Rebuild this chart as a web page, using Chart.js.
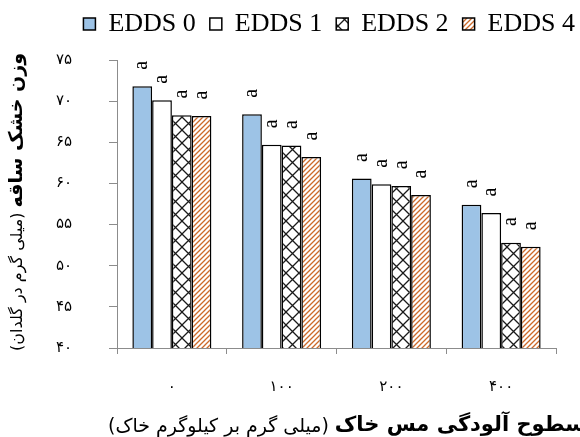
<!DOCTYPE html>
<html>
<head>
<meta charset="utf-8">
<script src="https://cdn.jsdelivr.net/npm/chart.js@4/dist/chart.umd.min.js"></script>
<style>
html,body{margin:0;padding:0;background:#fff;}
#wrap{width:580px;height:437px;position:relative;}
</style>
</head>
<body>
<div id="wrap"><canvas id="c"></canvas></div>
<script>
// ---- data ----
const categories = ['۰', '۱۰۰', '۲۰۰', '۴۰۰'];
const seriesNames = ['EDDS 0', 'EDDS 1', 'EDDS 2', 'EDDS 4'];
const edds0 = [71.8, 68.4, 60.6, 57.4];
const edds1 = [70.1, 64.7, 59.9, 56.4];
const edds2 = [68.3, 64.6, 59.7, 52.8];
const edds4 = [68.2, 63.2, 58.6, 52.3];
const letters0 = ['a', 'a', 'a', 'a'];
const letters1 = ['a', 'a', 'a', 'a'];
const letters2 = ['a', 'a', 'a', 'a'];
const letters4 = ['a', 'a', 'a', 'a'];
const yTickValues = [40, 45, 50, 55, 60, 65, 70, 75];
const yTickLabels = ['۴۰', '۴۵', '۵۰', '۵۵', '۶۰', '۶۵', '۷۰', '۷۵'];
const yTitleBold = 'وزن خشک ساقه';
const yTitleNormal = '(میلی گرم در گلدان)';
const xTitleBold = 'سطوح آلودگی مس خاک';
const xTitleNormal = '(میلی گرم بر کیلوگرم خاک)';

// ---- patterns ----
function makePattern(size, draw) {
  const c = document.createElement('canvas');
  c.width = size; c.height = size;
  const g = c.getContext('2d');
  g.fillStyle = '#fff';
  g.fillRect(0, 0, size, size);
  draw(g, size);
  return g.createPattern(c, 'repeat');
}
const lattice = makePattern(13, (g, s) => {
  g.strokeStyle = '#1a1a1a';
  g.lineWidth = 1.3;
  g.beginPath();
  g.moveTo(0, 0); g.lineTo(s, s);
  g.moveTo(s, 0); g.lineTo(0, s);
  g.stroke();
});
const stripes = makePattern(5, (g, s) => {
  g.strokeStyle = '#cc6a2a';
  g.lineWidth = 1.3;
  g.beginPath();
  g.moveTo(0, s); g.lineTo(s, 0);
  g.moveTo(-1, 1); g.lineTo(1, -1);
  g.moveTo(s - 1, s + 1); g.lineTo(s + 1, s - 1);
  g.stroke();
});

const axisGray = '#8c8c8c';
const persianFont = "'DejaVu Sans', sans-serif";

const letterPlugin = {
  id: 'letters',
  afterDatasetsDraw(chart) {
    const ctx = chart.ctx;
    const sets = [letters0, letters1, letters2, letters4];
    ctx.save();
    ctx.font = "20px 'Liberation Serif'";
    ctx.fillStyle = '#000';
    ctx.textAlign = 'center';
    ctx.textBaseline = 'middle';
    chart.data.datasets.forEach((ds, i) => {
      const meta = chart.getDatasetMeta(i);
      meta.data.forEach((bar, j) => {
        ctx.save();
        ctx.translate(bar.x, bar.y - 21);
        ctx.rotate(-Math.PI / 2);
        ctx.fillText(sets[i][j], 0, 0);
        ctx.restore();
      });
    });
    ctx.restore();
  }
};

const titlePlugin = {
  id: 'axisTitles',
  afterDraw(chart) {
    const ctx = chart.ctx;
    ctx.save();
    ctx.fillStyle = '#000';
    ctx.direction = 'rtl';
    ctx.textBaseline = 'middle';
    // y title (rotated)
    ctx.save();
    ctx.translate(17, 0);
    ctx.rotate(-Math.PI / 2);
    ctx.font = "bold 19px " + persianFont;
    const yb = ctx.measureText(yTitleBold).width;
    ctx.textAlign = 'right';
    ctx.fillText(yTitleBold, -53, 0);
    ctx.font = "16px " + persianFont;
    ctx.fillText(yTitleNormal, -53 - yb - 5, 1);
    ctx.restore();
    // x title
    ctx.font = "19px " + persianFont;
    const xn = ctx.measureText(xTitleNormal).width;
    ctx.textAlign = 'left';
    ctx.fillText(xTitleNormal, 108, 427);
    ctx.font = "bold 21px " + persianFont;
    ctx.fillText(xTitleBold, 108 + xn + 6, 426);
    ctx.restore();
  }
};

new Chart(document.getElementById('c'), {
  type: 'bar',
  data: {
    labels: categories,
    datasets: [
      { label: seriesNames[0], data: edds0, backgroundColor: '#9dc3e6', borderColor: '#000', borderWidth: 1.5 },
      { label: seriesNames[1], data: edds1, backgroundColor: '#ffffff', borderColor: '#000', borderWidth: 1.5 },
      { label: seriesNames[2], data: edds2, backgroundColor: lattice, borderColor: '#000', borderWidth: 1.5 },
      { label: seriesNames[3], data: edds4, backgroundColor: stripes, borderColor: '#000', borderWidth: 1.5 }
    ]
  },
  options: {
    responsive: true,
    maintainAspectRatio: false,
    animation: false,
    layout: { padding: { top: -3, right: -9, left: 0, bottom: 0 } },
    datasets: { bar: { categoryPercentage: 0.72, barPercentage: 1.0, borderSkipped: 'start' } },
    plugins: {
      legend: {
        position: 'top',
        align: 'end',
        labels: {
          color: '#000',
          font: { family: 'Liberation Serif', size: 26 },
          boxWidth: 12,
          boxHeight: 12,
          padding: 14
        }
      },
      tooltip: { enabled: false }
    },
    scales: {
      x: {
        grid: { display: true, drawOnChartArea: false, drawTicks: true, tickLength: 6, color: axisGray, offset: true },
        border: { display: true, color: axisGray, width: 1 },
        ticks: { color: '#000', font: { family: persianFont, size: 15 }, padding: 24, maxRotation: 0 },
        afterFit(s) { s.height = 89; }
      },
      xTop: {
        type: 'category',
        position: 'top',
        display: true,
        grid: { display: false },
        border: { display: false },
        ticks: { display: false },
        afterFit(s) { s.height = 13; }
      },
      y: {
        min: 40,
        max: 75,
        grid: { display: true, drawOnChartArea: false, drawTicks: true, tickLength: 8, color: axisGray },
        border: { display: true, color: axisGray, width: 1 },
        ticks: {
          stepSize: 5,
          color: '#000',
          font: { family: persianFont, size: 15 },
          padding: 37,
          callback(v) { const k = yTickValues.indexOf(v); return k >= 0 ? yTickLabels[k] : ''; }
        },
        afterFit(s) { s.width = 117; s.paddingRight = 24; }
      }
    }
  },
  plugins: [letterPlugin, titlePlugin]
});
</script>
</body>
</html>
